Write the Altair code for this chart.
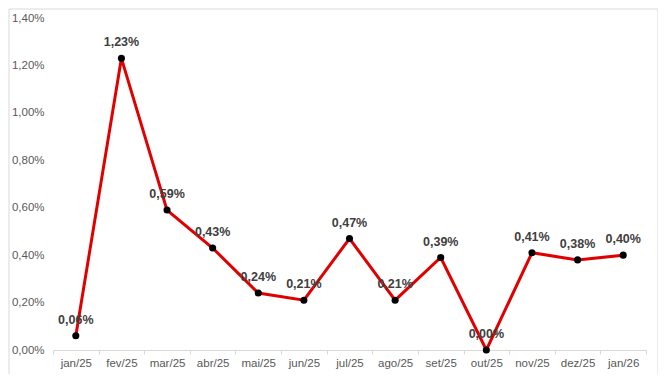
import altair as alt
import pandas as pd

months = ["jan/25", "fev/25", "mar/25", "abr/25", "mai/25", "jun/25", "jul/25",
          "ago/25", "set/25", "out/25", "nov/25", "dez/25", "jan/26"]
values = [0.06, 1.23, 0.59, 0.43, 0.24, 0.21, 0.47, 0.21, 0.39, 0.00, 0.41, 0.38, 0.40]
y_ticks = [0.0, 0.2, 0.4, 0.6, 0.8, 1.0, 1.2, 1.4]

df = pd.DataFrame({"mes": months, "valor": values})
df["rotulo"] = [f"{v:.2f}".replace(".", ",") + "%" for v in values]

FONT = "Liberation Sans"

x = alt.X("mes:N", sort=months, title=None,
          scale=alt.Scale(paddingInner=0, paddingOuter=0),
          axis=alt.Axis(labelAngle=0, tickBand="extent", domainColor="#d9d9d9",
                        tickColor="#d9d9d9", tickSize=4, labelColor="#595959",
                        labelFontSize=11.5, labelFont=FONT, labelPadding=3, grid=False))
y = alt.Y("valor:Q", title=None,
          scale=alt.Scale(domain=[0, 1.4], nice=False),
          axis=alt.Axis(values=y_ticks, domain=False, ticks=False, grid=False,
                        labelExpr="replace(format(datum.value, '.2f'), '.', ',') + '%'",
                        labelColor="#595959", labelFontSize=11.5, labelFont=FONT,
                        labelPadding=9))

base = alt.Chart(df).encode(x=x, y=y)

line = base.mark_line(color="#e00000", strokeWidth=3)
pts = base.mark_circle(color="#000000", size=50, opacity=1)
txt = base.mark_text(dy=-16, fontWeight="bold", fontSize=12.5, font=FONT,
                     color="#404040").encode(text="rotulo:N")

border = alt.Chart(pd.DataFrame({"a": [0]})).mark_rect(
    fill=None, stroke="#d9d9d9", strokeWidth=1
).encode(x=alt.value(-44), x2=alt.value(605), y=alt.value(-9), y2=alt.value(357))

chart = alt.layer(border, line, pts, txt).properties(
    width=593, height=332,
    autosize=alt.AutoSizeParams(type="none"),
    padding={"left": 45, "top": 10, "right": 12, "bottom": 24},
).configure_view(stroke=None)

chart.save("out.html", embed_options={"renderer": "svg", "actions": False})
